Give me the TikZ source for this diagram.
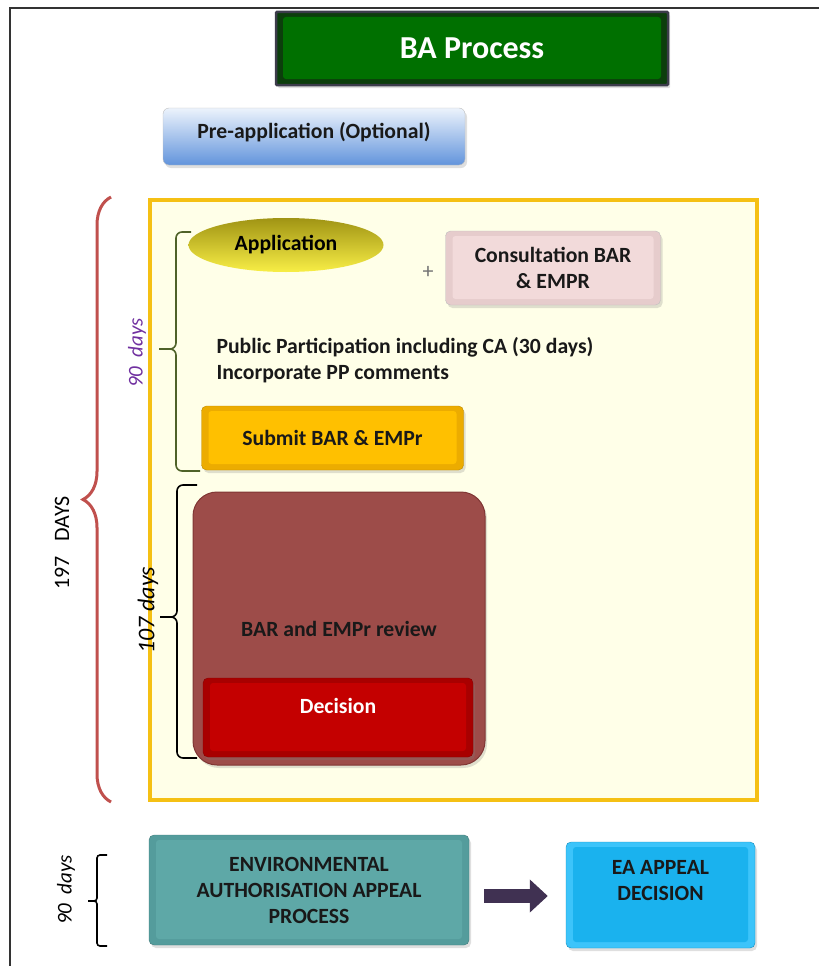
\documentclass[tikz,border=0pt]{standalone}
\usepackage{fontspec}
\setmainfont{Carlito}
\usepackage{tikz}
\usetikzlibrary{arrows.meta, positioning, shapes.geometric, shadows, decorations.pathreplacing}

\definecolor{titleface}{RGB}{0,112,0}
\definecolor{titleedge}{RGB}{12,62,12}
\definecolor{titleborder}{RGB}{60,60,75}
\definecolor{consultface}{RGB}{242,218,218}
\definecolor{consultedge}{RGB}{230,204,204}
\definecolor{submitface}{RGB}{255,192,0}
\definecolor{submitedge}{RGB}{236,172,0}
\definecolor{reviewface}{RGB}{157,76,73}
\definecolor{reviewedge}{RGB}{128,54,52}
\definecolor{decisionface}{RGB}{196,0,0}
\definecolor{decisionedge}{RGB}{168,0,0}
\definecolor{appealface}{RGB}{94,168,167}
\definecolor{appealedge}{RGB}{84,156,156}
\definecolor{eaface}{RGB}{26,178,238}
\definecolor{eaedge}{RGB}{60,196,250}
\definecolor{arrowcol}{RGB}{64,49,82}
\definecolor{stageborder}{RGB}{245,192,20}
\definecolor{stagefill}{RGB}{255,255,232}
\definecolor{bracered}{RGB}{192,80,77}
\definecolor{braceolive}{RGB}{79,98,40}
\definecolor{dayspurple}{RGB}{112,48,160}

\begin{document}
\begin{tikzpicture}[x=1pt, y=-1pt,
    txt/.style={font=\bfseries\fontsize{21.7}{26}\selectfont},
    box/.style={rectangle, rounded corners=5pt, align=center, inner sep=0pt,
                txt, text=black!90,
                drop shadow={opacity=0.25, shadow xshift=2pt, shadow yshift=-3pt}},
    bevel/.style={path picture={
        \fill[#1, rounded corners=3pt]
          ([shift={(7pt,-5pt)}]path picture bounding box.north west) rectangle
          ([shift={(-7pt,6pt)}]path picture bounding box.south east);}},
    titlebox/.style={box, fill=titleedge, draw=titleborder, line width=2.5pt,
                     rounded corners=1pt, bevel=titleface, text=white,
                     font=\bfseries\fontsize{32}{38}\selectfont},
    prebox/.style={box, top color={rgb,255:red,236;green,243;blue,252},
                   bottom color={rgb,255:red,98;green,148;blue,220},
                   draw=black!25, rounded corners=6pt},
    consultbox/.style={box, fill=consultedge, draw=black!25, bevel=consultface},
    submitbox/.style={box, fill=submitedge, draw=submitedge!80!black, bevel=submitface},
    reviewbox/.style={box, fill=reviewface, draw=reviewedge, line width=1pt,
                      rounded corners=24pt},
    decisionbox/.style={box, fill=decisionedge, draw=decisionedge!80!black,
                        bevel=decisionface, text=white},
    appealbox/.style={box, fill=appealedge, draw=appealedge!80!black, bevel=appealface},
    eabox/.style={box, fill=eaedge, draw=eaface!80!black, bevel=eaface},
    stage/.style={rectangle, draw=stageborder, fill=stagefill, line width=4pt,
                  minimum width=607pt, minimum height=600pt},
    days/.style={rotate=90, font=\itshape\fontsize{21}{25}\selectfont},
    bracket/.style={line width=1.6pt, rounded corners=6pt},
    fatarrow/.style={-{Triangle[length=18pt, width=32pt]}, line width=14pt,
                     draw=arrowcol, shorten <=15pt, shorten >=18pt},
  ]
  \useasboundingbox (0,0) rectangle (819,966);

  % page frame (top and left edge)
  \draw[line width=2pt, black!80] (10,966) -- (10,8) -- (819,8);

  % heading and optional first step
  \node[titlebox, minimum width=392pt, minimum height=73pt] (title) at (472,48.5) {BA Process};
  \node[prebox, minimum width=302pt, minimum height=57pt, text depth=13pt] (preapp) at (314,136.5)
    {Pre-application (Optional)};

  % main 197 day stage
  \node[stage] (stage) at (453.5,500) {};

  \node[ellipse, minimum width=195pt, minimum height=54pt, inner sep=0pt, txt,
        top color={rgb,255:red,160;green,148;blue,20},
        middle color={rgb,255:red,232;green,214;blue,12},
        bottom color={rgb,255:red,248;green,238;blue,70}] (app) at (286,245) {Application};
  \node[text=black!55, font=\fontsize{22}{26}\selectfont] (plus) at (428,272) {+};
  \node[consultbox, minimum width=215pt, minimum height=74pt] (consult) at (553,268)
    {Consultation BAR\\\& EMPR};

  \node[txt, align=left, anchor=west, text=black!90] (pp) at (213,360)
    {Public Participation including CA (30 days)\\Incorporate PP comments};

  \node[submitbox, minimum width=262pt, minimum height=64pt] (submit) at (332.5,438)
    {Submit BAR \& EMPr};

  \node[reviewbox, minimum width=292pt, minimum height=273pt] (review) at (339,628.5)
    {BAR and EMPr review};
  \node[decisionbox, minimum width=270pt, minimum height=79pt, text depth=24pt] (decision)
    at (338,717.5) {Decision};

  % appeal
  \node[appealbox, minimum width=320pt, minimum height=110pt] (appeal)
    at (309,890) {ENVIRONMENTAL\\AUTHORISATION APPEAL\\PROCESS};
  \node[eabox, minimum width=189pt, minimum height=106pt, text depth=29pt] (eadec)
    at (660.5,895) {EA APPEAL\\DECISION};
  \draw[fatarrow] ([yshift=-6pt]appeal.east) -- ([yshift=-6pt]appeal.east -| eadec.west);

  % braces and durations
  \draw[bracered, line width=3pt, decorate, decoration={brace, amplitude=28pt}]
    (111,802) -- (111,197);
  \node[rotate=90, font=\fontsize{22}{26}\selectfont] (total) at (62,543) {197\ \ \ DAYS};

  \draw[braceolive, bracket] (191,232) -- (176,232) -- (176,349) -- (159,349);
  \draw[braceolive, bracket] (200,471) -- (176,471) -- (176,349) -- (159,349);
  \node[days, text=dayspurple] (ninety) at (137,353) {90\ \ days};

  \draw[black, bracket] (197,485) -- (177,485) -- (177,617) -- (160,617);
  \draw[black, bracket] (197,758) -- (177,758) -- (177,617) -- (160,617);
  \node[days, font=\itshape\fontsize{24}{28}\selectfont] (hundred) at (148,610) {107 days};

  \draw[black, bracket, rounded corners=3pt] (107,855) -- (97,855) -- (97,901) -- (88,901);
  \draw[black, bracket, rounded corners=3pt] (107,946) -- (97,946) -- (97,901) -- (88,901);
  \node[days] (appealdays) at (66,890) {90\ \ days};
\end{tikzpicture}
\end{document}
